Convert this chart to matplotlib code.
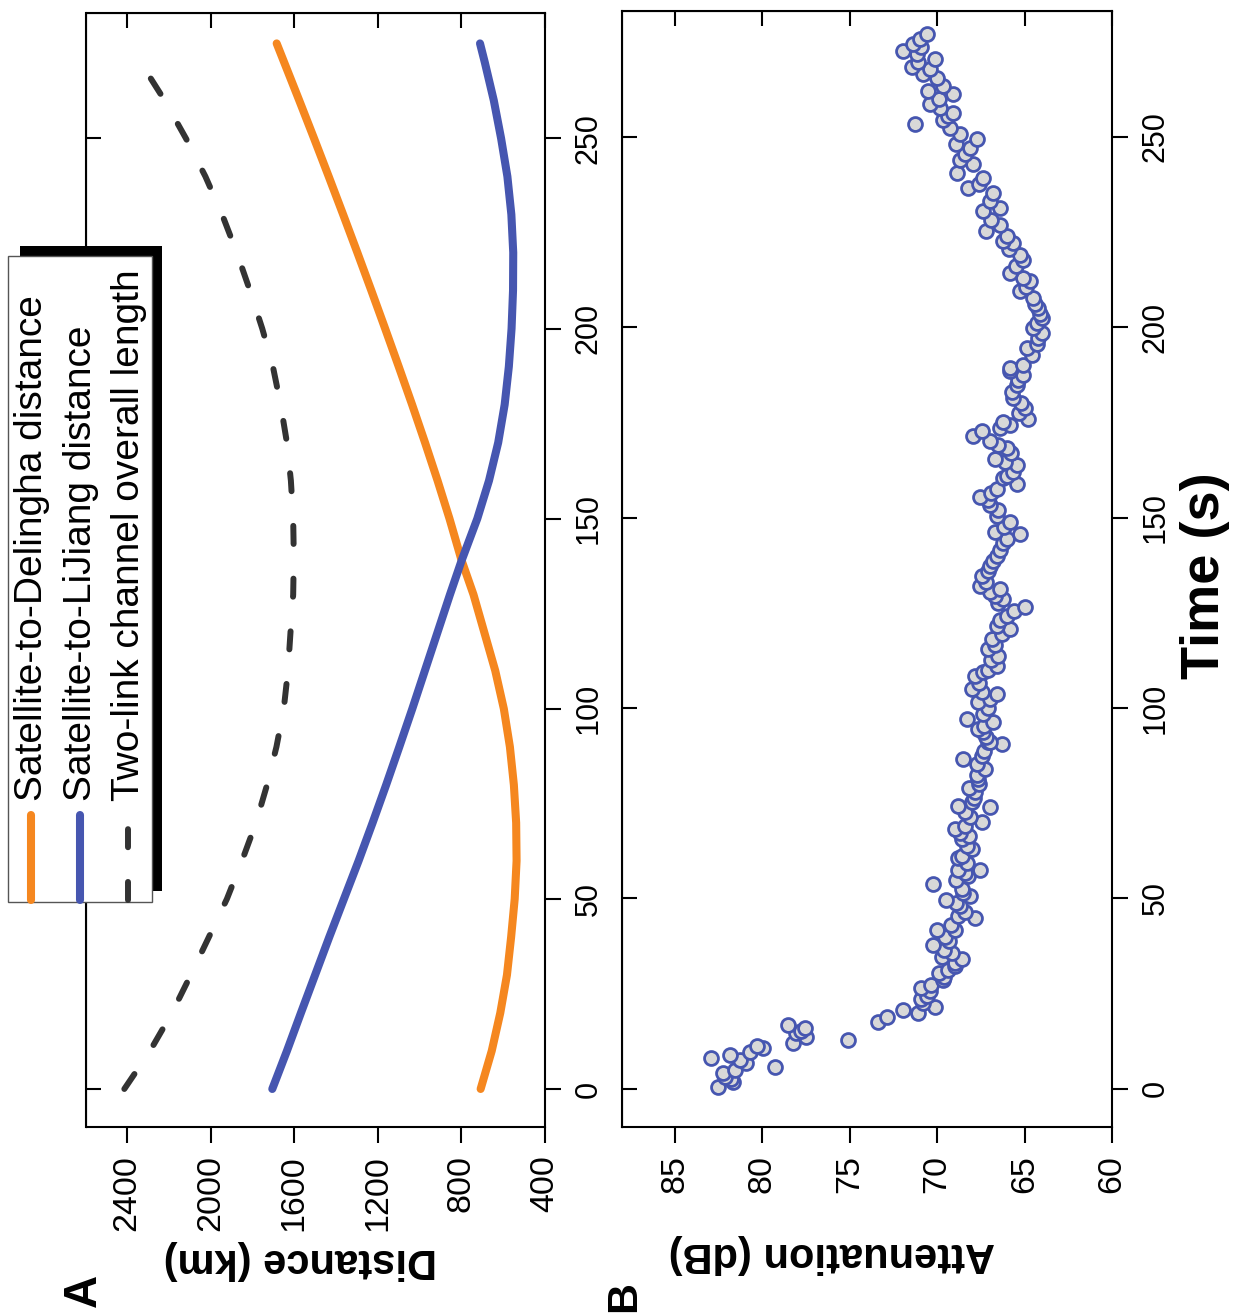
import matplotlib
matplotlib.use('Agg')
import matplotlib.pyplot as plt
from matplotlib.lines import Line2D
from matplotlib.patches import Rectangle

plt.rcParams['font.family'] = ['Liberation Sans', 'DejaVu Sans']
plt.rcParams['lines.scale_dashes'] = False

# ---- panel A: distances (km) against time (s)
t_line = [0, 10, 20, 30, 40, 50, 60, 70, 80, 90, 100, 110, 120, 130, 139,
          150, 160, 170, 180, 190, 200, 210, 220, 230, 240, 250, 260, 270, 275]
d_delingha = [708, 655, 614, 582, 562, 545, 536, 538, 549, 568, 597, 638, 690, 742, 799,
              857, 914, 974, 1036, 1100, 1165, 1231, 1298, 1366, 1435, 1505, 1576, 1648, 1684]
d_lijiang = [1705, 1635, 1568, 1500, 1432, 1362, 1292, 1225, 1160, 1097, 1035, 975, 915, 855, 799,
             724, 668, 624, 593, 573, 560, 553, 552, 561, 580, 610, 645, 688, 711]
t_total = [0, 10, 20, 30, 40, 50, 60, 70, 80, 90, 100, 110, 120, 130, 140,
           150, 160, 170, 180, 190, 200, 210, 220, 230, 240, 250, 260, 270]
d_total = [2413, 2290, 2185, 2095, 2008, 1922, 1850, 1783, 1730, 1685, 1650, 1630, 1618, 1605, 1602,
           1605, 1616, 1635, 1665, 1702, 1753, 1812, 1875, 1945, 2025, 2118, 2220, 2335]

dist_ticks = [2400, 2000, 1600, 1200, 800, 400]
time_ticks = [0, 50, 100, 150, 200, 250]
legend_labels = ['Satellite-to-Delingha distance', 'Satellite-to-LiJiang distance',
                 'Two-link channel overall length']

# ---- panel B: attenuation (dB) against time (s)
t_att = [0.5, 1.8, 2.5, 3.2, 4.2, 5.0, 5.8, 6.8, 7.5, 8.1, 8.9, 9.7, 10.8, 11.2, 12.1, 12.9,
         13.7, 14.7, 15.2, 16.0, 16.8, 17.6, 19.0, 20.0, 20.8, 21.6, 22.6, 23.5, 24.3, 25.8,
         26.5, 27.3, 28.7, 29.5, 30.5, 31.3, 32.2, 33.0, 34.0, 34.7, 35.8, 36.5, 37.9, 38.8,
         40.0, 41.8, 41.8, 43.0, 44.9, 45.3, 46.5, 47.9, 48.8, 49.7, 50.6, 51.5, 52.4, 53.7,
         54.8, 55.8, 56.7, 57.6, 57.6, 59.3, 60.5, 61.1, 62.9, 63.8, 65.5, 66.5, 67.3, 68.2,
         69.0, 70.0, 71.5, 72.8, 74.0, 74.2, 75.3, 76.5, 77.9, 79.0, 80.0, 81.3, 82.5, 84.0,
         85.3, 86.6, 87.4, 88.8, 90.5, 91.0, 91.0, 92.3, 93.7, 94.5, 95.4, 96.3, 97.1, 98.5,
         100.0, 101.6, 102.5, 103.7, 104.2, 105.0, 106.5, 108.4, 109.5, 110.0, 111.1, 112.5,
         113.7, 115.5, 116.5, 118.2, 119.5, 120.8, 121.6, 123.0, 124.2, 125.5, 126.6, 127.5,
         128.7, 129.5, 130.5, 131.3, 132.1, 133.0, 134.7, 136.0, 137.4, 138.5, 140.0, 141.5,
         143.2, 144.5, 145.8, 146.3, 147.5, 148.9, 150.5, 152.0, 153.2, 154.5, 155.5, 156.5,
         157.6, 158.9, 160.3, 161.0, 162.0, 163.7, 164.5, 165.5, 167.0, 168.2, 169.0, 170.0,
         171.3, 172.6, 173.5, 174.2, 175.2, 176.0, 177.5, 178.7, 180.0, 181.3, 183.0, 184.7,
         186.0, 187.4, 188.4, 189.2, 190.0, 192.6, 194.5, 195.5, 197.1, 198.5, 199.7, 201.0,
         202.4, 203.5, 205.0, 206.0, 207.6, 209.5, 210.5, 212.1, 212.9, 214.2, 216.0, 217.5,
         219.0, 220.5, 222.1, 222.6, 224.0, 225.3, 226.8, 228.0, 230.5, 231.3, 233.0, 235.3,
         236.6, 237.5, 239.2, 240.5, 242.7, 244.0, 245.5, 247.1, 248.0, 249.3, 250.6, 252.4,
         253.4, 254.5, 255.5, 256.3, 257.6, 258.5, 260.0, 261.1, 262.0, 263.3, 265.5, 266.5,
         267.7, 268.2, 269.5, 270.3, 271.7, 272.5, 273.5, 274.3, 275.6, 276.9]
att_db = [82.55, 81.69, 81.80, 82.16, 82.26, 81.59, 79.30, 80.92, 81.30, 82.93, 81.88, 80.73,
          79.97, 80.30, 78.25, 75.10, 77.48, 78.06, 77.80, 77.58, 78.54, 73.38, 72.90, 71.09,
          71.95, 70.14, 70.80, 70.90, 70.61, 70.40, 70.90, 70.33, 69.66, 69.60, 69.90, 69.37,
          69.00, 68.99, 68.60, 69.75, 69.18, 69.60, 70.23, 69.30, 69.56, 70.04, 68.99, 69.20,
          67.85, 68.80, 68.40, 68.70, 68.90, 69.47, 68.13, 68.50, 68.60, 70.23, 68.90, 68.23,
          68.40, 67.56, 68.80, 68.30, 68.80, 68.60, 68.03, 68.30, 68.60, 68.20, 68.70, 68.99,
          68.41, 67.46, 68.10, 68.40, 66.99, 68.80, 68.03, 67.90, 67.85, 68.20, 67.60, 67.66,
          67.70, 67.27, 67.70, 68.51, 67.46, 67.30, 66.32, 67.08, 66.99, 67.20, 67.37, 67.66,
          67.30, 66.80, 68.32, 67.40, 67.10, 67.66, 67.00, 66.60, 67.46, 68.03, 67.60, 67.85,
          67.37, 67.10, 66.60, 66.90, 66.51, 67.08, 66.70, 66.89, 66.30, 65.84, 66.60, 66.40,
          66.03, 65.60, 64.98, 66.50, 66.22, 66.70, 66.99, 66.41, 67.56, 67.20, 67.46, 67.10,
          66.99, 66.80, 66.60, 66.40, 66.22, 66.00, 65.27, 66.70, 66.20, 65.84, 66.60, 66.50,
          66.99, 67.10, 67.56, 66.90, 66.60, 65.46, 66.22, 66.00, 65.65, 65.46, 66.10, 66.70,
          65.80, 66.03, 66.50, 66.99, 67.94, 67.46, 66.40, 65.84, 66.22, 64.79, 65.30, 64.98,
          65.20, 65.65, 65.70, 65.46, 65.40, 65.08, 65.84, 65.84, 65.08, 64.60, 64.88, 64.30,
          64.22, 64.00, 64.51, 64.30, 64.03, 64.10, 64.22, 64.40, 64.51, 65.27, 64.90, 64.70,
          65.08, 65.84, 65.50, 65.10, 65.27, 65.90, 65.65, 66.22, 66.00, 67.18, 66.41, 66.90,
          67.37, 66.41, 67.00, 66.80, 68.23, 67.60, 67.37, 68.89, 67.94, 68.70, 68.40, 68.13,
          68.90, 67.75, 68.70, 69.28, 71.28, 69.66, 69.40, 69.09, 69.85, 70.42, 69.90, 69.09,
          70.50, 69.66, 70.04, 70.80, 70.42, 71.47, 71.10, 70.14, 71.18, 71.95, 70.90, 71.38,
          71.00, 70.61]
att_ticks = [85, 80, 75, 70, 65, 60]

ORANGE = '#F5871F'
BLUE = '#4656B0'
DARK = '#333333'

W, H = 1239, 1315
fig = plt.figure(figsize=(W / 100, H / 100), dpi=100)


def box(x0, y0, x1, y1):
    # pixel box (y from top) -> figure fraction rect
    return [x0 / W, 1 - y1 / H, (x1 - x0) / W, (y1 - y0) / H]


def fx(x):
    return x / W


def fy(y):
    return 1 - y / H


def style_axes(ax, xticks, xlabels):
    for s in ax.spines.values():
        s.set_linewidth(1.5)
    ax.xaxis.set_ticks_position('bottom')
    ax.yaxis.set_ticks_position('right')
    ax.set_xticks(xticks, xlabels, rotation=90, fontsize=24.5)
    ax.set_yticks(time_ticks, [str(v) for v in time_ticks], rotation=90, va='center', fontsize=22)
    ax.tick_params(axis='both', direction='out', length=11.5, width=1.5, pad=9)
    top = ax.secondary_xaxis('top')
    top.set_xticks(xticks)
    top.tick_params(direction='in', length=11, width=1.5, labeltop=False)
    left = ax.secondary_yaxis('left')
    left.set_yticks(time_ticks)
    left.tick_params(direction='in', length=11, width=1.5, labelleft=False)


# panel A
axA = fig.add_axes(box(86.5, 13, 545, 1127))
axA.plot(d_delingha, t_line, color=ORANGE, lw=5.8, solid_capstyle='round')
axA.plot(d_lijiang, t_line, color=BLUE, lw=5.8, solid_capstyle='round')
axA.plot(d_total, t_total, color=DARK, lw=4.3, linestyle=(0, (13, 25)), dash_capstyle='round')
axA.set_xlim(2594, 400)
axA.set_ylim(-10, 283)
style_axes(axA, dist_ticks, [str(v) for v in dist_ticks])

# panel B
axB = fig.add_axes(box(621.7, 11, 1112, 1127))
axB.scatter(att_db, t_att, s=100, facecolor='#D8D8D8', edgecolor=BLUE, linewidth=2.0, zorder=3)
axB.set_xlim(88.05, 60)
axB.set_ylim(-10, 283)
style_axes(axB, att_ticks, [str(v) for v in att_ticks])

# legend (drawn by hand, rotated with the figure)
fig.add_artist(Rectangle((fx(20), fy(891)), fx(162) - fx(20), fy(246) - fy(891),
                         transform=fig.transFigure, facecolor='black', edgecolor='none', zorder=10))
fig.add_artist(Rectangle((fx(8), fy(902)), fx(152) - fx(8), fy(256) - fy(902),
                         transform=fig.transFigure, facecolor='white', edgecolor='#555555',
                         lw=1.0, zorder=11))
leg_x = [31, 80, 128]
leg_style = [dict(color=ORANGE, lw=5.8, solid_capstyle='round'),
             dict(color=BLUE, lw=5.8, solid_capstyle='round'),
             dict(color=DARK, lw=4.3, linestyle=(0, (13, 25)), dash_capstyle='round')]
for x, st, lab in zip(leg_x, leg_style, legend_labels):
    fig.add_artist(Line2D([fx(x), fx(x)], [fy(900), fy(815)], transform=fig.transFigure,
                          zorder=12, **st))
    fig.text(fx(x + 1), fy(801), lab, rotation=90, rotation_mode='anchor', ha='left',
             va='center', fontsize=28, zorder=12)

# axis titles and panel letters
fig.text(fx(300), fy(1260), 'Distance (km)', rotation=180, ha='center', va='center',
         fontsize=30, fontweight='bold')
fig.text(fx(832), fy(1254), 'Attenuation (dB)', rotation=180, ha='center', va='center',
         fontsize=30, fontweight='bold')
fig.text(fx(1205), fy(576), 'Time (s)', rotation=90, ha='center', va='center',
         fontsize=39, fontweight='bold')
fig.text(fx(84), fy(1290), 'A', rotation=90, ha='center', va='center',
         fontsize=33, fontweight='bold')
fig.text(fx(624), fy(1297), 'B', rotation=90, ha='center', va='center',
         fontsize=31, fontweight='bold')

fig.savefig('out.png', dpi=100)
